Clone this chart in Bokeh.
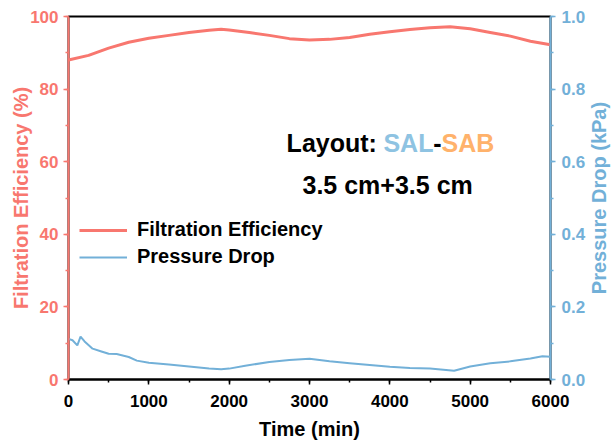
import math
from bokeh.plotting import figure
from bokeh.layouts import row
from bokeh.models import (Range1d, LinearAxis, Legend, LegendItem, Label, FixedTicker,
                          NumeralTickFormatter)
from bokeh.embed import file_html
from bokeh.resources import INLINE

# ---- data ----
eff_time = [0, 250, 500, 750, 1000, 1250, 1500, 1750, 1900, 2000, 2250, 2500, 2750,
            3000, 3250, 3500, 3750, 4000, 4250, 4500, 4750, 5000, 5250, 5500, 5750, 6000]
eff_vals = [88.0, 89.3, 91.3, 92.9, 94.0, 94.8, 95.6, 96.2, 96.5, 96.3, 95.6, 94.8, 93.9,
            93.5, 93.7, 94.2, 95.1, 95.8, 96.4, 96.9, 97.2, 96.6, 95.6, 94.6, 93.2, 92.2]

pd_time = [0, 50, 110, 150, 200, 300, 400, 500, 600, 750, 850, 1000, 1250, 1500, 1750,
           1900, 2000, 2200, 2500, 2750, 3000, 3250, 3500, 3750, 4000, 4250, 4500, 4800,
           5000, 5250, 5500, 5750, 5900, 6000]
pd_vals = [0.112, 0.108, 0.094, 0.118, 0.105, 0.085, 0.078, 0.071, 0.070, 0.062, 0.052,
           0.046, 0.041, 0.036, 0.030, 0.028, 0.030, 0.038, 0.048, 0.054, 0.057, 0.050,
           0.045, 0.040, 0.035, 0.032, 0.030, 0.024, 0.036, 0.045, 0.050, 0.058, 0.064, 0.063]

x_ticks = [0, 1000, 2000, 3000, 4000, 5000, 6000]
eff_ticks = [0, 20, 40, 60, 80, 100]
pd_ticks = [0.0, 0.2, 0.4, 0.6, 0.8, 1.0]

RED = "#F8776F"
BLUE = "#72B0D8"
SAL_C = "#8EC3E2"
SAB_C = "#FFB26B"
FONT = "Liberation Sans"

p = figure(width=588, height=445, output_backend="svg", toolbar_location=None,
           x_range=Range1d(0, 6000), y_range=Range1d(0, 100),
           min_border_left=68, min_border_right=36, min_border_top=16, min_border_bottom=66)
p.extra_y_ranges = {"pd": Range1d(0, 1.0)}
p.grid.visible = False
p.outline_line_color = "black"
p.outline_line_width = 2
p.background_fill_color = "white"
p.border_fill_color = "white"

r_eff = p.line(eff_time, eff_vals, line_color=RED, line_width=3)
r_pd = p.line(pd_time, pd_vals, line_color=BLUE, line_width=2, y_range_name="pd")

def style_axis(ax, color):
    ax.axis_line_color = color
    ax.axis_line_width = 2
    ax.major_tick_line_color = color
    ax.minor_tick_line_color = color
    ax.major_tick_line_width = 1.5
    ax.minor_tick_line_width = 1.5
    ax.major_tick_in = 0
    ax.major_tick_out = 5
    ax.minor_tick_in = 0
    ax.minor_tick_out = 3
    ax.major_label_text_color = color
    ax.major_label_text_font = FONT
    ax.major_label_text_font_style = "bold"
    ax.major_label_text_font_size = "17px"
    ax.axis_label_text_color = color
    ax.axis_label_text_font = FONT
    ax.axis_label_text_font_style = "bold"
    ax.axis_label_text_font_size = "20px"

xa = p.xaxis[0]
style_axis(xa, "black")
xa.ticker = FixedTicker(ticks=x_ticks, minor_ticks=list(range(0, 6001, 500)))
xa.axis_label = "Time (min)"
xa.axis_label_standoff = 8
xa.major_label_standoff = 10

ya = p.yaxis[0]
style_axis(ya, RED)
ya.ticker = FixedTicker(ticks=eff_ticks, minor_ticks=list(range(0, 101, 10)))
ya.axis_label = "Filtration Efficiency (%)"
ya.axis_label_standoff = -5
ya.major_label_standoff = 5

yr = LinearAxis(y_range_name="pd")
style_axis(yr, BLUE)
yr.ticker = FixedTicker(ticks=pd_ticks, minor_ticks=[i / 10 for i in range(11)])
yr.formatter = NumeralTickFormatter(format="0.0")
yr.major_label_standoff = 6
p.add_layout(yr, "right")

legend = Legend(items=[LegendItem(label="Filtration Efficiency", renderers=[r_eff]),
                       LegendItem(label="Pressure Drop", renderers=[r_pd])],
                location=(11, 111), orientation="vertical")
legend.background_fill_alpha = 0
legend.border_line_alpha = 0
legend.label_text_font = FONT
legend.label_text_font_style = "bold"
legend.label_text_font_size = "20px"
legend.label_text_color = "black"
legend.glyph_width = 48
legend.glyph_height = 20
legend.label_height = 20
legend.label_standoff = 10
legend.spacing = 4
legend.padding = 0
legend.margin = 0
p.add_layout(legend, "center")

def add_text(x, y, txt, color):
    lab = Label(x=x, y=y, text=txt, text_color=color, text_font=FONT,
                text_font_style="bold", text_font_size="25px",
                text_baseline="alphabetic", text_align="left")
    p.add_layout(lab)

add_text(2715, 65.2, "Layout:", "black")
add_text(3920, 65.2, "SAL", SAL_C)
add_text(4540, 65.2, "-", "black")
add_text(4643, 65.2, "SAB", SAB_C)
add_text(2913, 53.7, "3.5 cm+3.5 cm", "black")

# narrow strip holding the right-hand axis title, reading bottom-to-top
t = figure(width=24, height=445, output_backend="svg", toolbar_location=None,
           x_range=Range1d(0, 1), y_range=Range1d(0, 1),
           min_border_left=0, min_border_right=0, min_border_top=16, min_border_bottom=66)
t.axis.visible = False
t.grid.visible = False
t.outline_line_color = None
t.background_fill_color = "white"
t.border_fill_color = "white"
t.add_layout(Label(x=0.45, y=0.5, text="Pressure Drop (kPa)", angle=math.pi / 2,
                   text_color=BLUE, text_font=FONT, text_font_style="bold",
                   text_font_size="20px", text_align="center", text_baseline="middle"))

layout = row(p, t)
open("out.html", "w").write(file_html(layout, INLINE))
